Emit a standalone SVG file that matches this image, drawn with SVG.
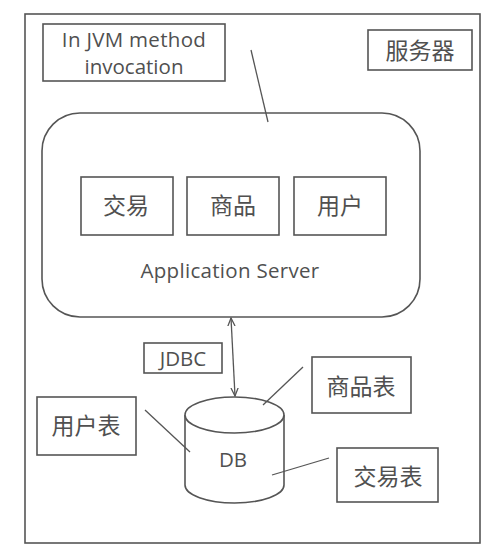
<svg xmlns="http://www.w3.org/2000/svg" width="503" height="556" viewBox="0 0 503 556">
<defs>
<style>
.b{fill:none;stroke:#555;stroke-width:1.6}
.w{fill:#fff;stroke:#555;stroke-width:1.6}
.t{font-family:"Open Sans","DejaVu Sans",sans-serif;fill:#505050;text-anchor:middle;font-size:20.5px}
.c{font-family:"Noto Sans CJK SC",sans-serif;fill:#505050;text-anchor:middle;font-size:23px}
.l{stroke:#555;stroke-width:1.3;fill:none}
</style>
<marker id="ah" viewBox="0 0 10 10" refX="9" refY="5" markerWidth="7" markerHeight="7" orient="auto-start-reverse">
<path d="M0,1 L9,5 L0,9" fill="none" stroke="#555" stroke-width="1.4"/>
</marker>
</defs>
<rect width="503" height="556" fill="#fff"/>
<g id="server">
<rect class="b" x="25" y="14" width="455" height="529"/>
<rect class="b" x="368" y="30" width="104" height="40"/>
<text class="c" x="420" y="59">服务器</text>
</g>
<g id="jvm-note">
<rect class="b" x="43" y="24" width="182" height="57"/>
<text class="t" x="134" y="47" letter-spacing="0.3">In JVM method</text>
<text class="t" x="134" y="74">invocation</text>
</g>
<g id="app-server">
<rect class="b" x="42" y="113" width="378" height="204" rx="38" ry="38"/>
<text class="t" x="230" y="278" letter-spacing="0.3">Application Server</text>
</g>
<g id="jiaoyi">
<rect class="b" x="81" y="177" width="92" height="58"/>
<text class="c" x="126" y="214">交易</text>
</g>
<g id="shangpin">
<rect class="b" x="187" y="177" width="92" height="58"/>
<text class="c" x="233" y="214">商品</text>
</g>
<g id="yonghu">
<rect class="b" x="294" y="177" width="92" height="58"/>
<text class="c" x="340" y="214">用户</text>
</g>
<g id="jdbc">
<rect class="b" x="144" y="343" width="78" height="30"/>
<text class="t" x="183" y="366">JDBC</text>
</g>
<g id="db">
<path class="w" d="M185,415 L185,485 A49.5,18 0 0 0 284,485 L284,415"/>
<ellipse class="w" cx="234.5" cy="415" rx="49.5" ry="18"/>
<text class="t" x="233" y="467">DB</text>
</g>
<g id="spb">
<rect class="b" x="312" y="357" width="99" height="56"/>
<text class="c" x="361" y="395">商品表</text>
</g>
<g id="yhb">
<rect class="b" x="37" y="397" width="99" height="58"/>
<text class="c" x="86" y="434">用户表</text>
</g>
<g id="jyb">
<rect class="b" x="337" y="448" width="101" height="54"/>
<text class="c" x="388" y="485">交易表</text>
</g>
<g id="connectors">
<line class="l" x1="251" y1="50" x2="268" y2="122"/>
<line class="l" x1="231" y1="318" x2="235" y2="396" marker-start="url(#ah)" marker-end="url(#ah)"/>
<line class="l" x1="145" y1="410" x2="190" y2="452"/>
<line class="l" x1="303" y1="367" x2="263" y2="405"/>
<line class="l" x1="329" y1="458" x2="272" y2="475"/>
</g>
</svg>
